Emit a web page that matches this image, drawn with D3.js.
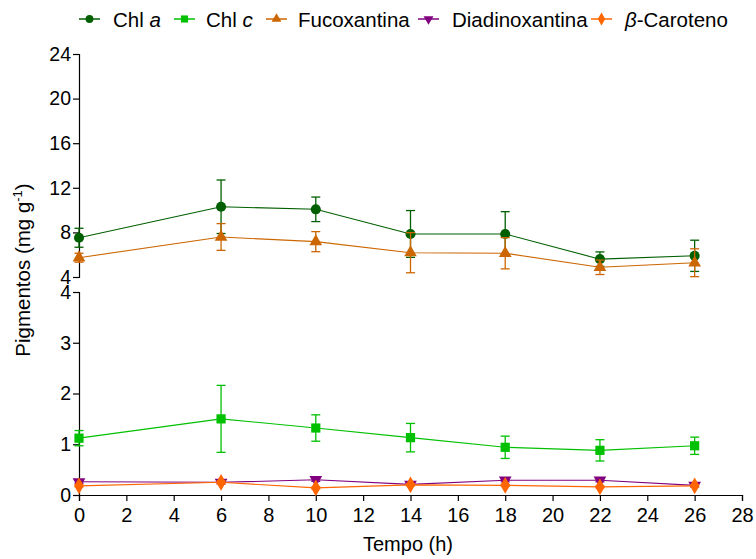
<!DOCTYPE html>
<html>
<head>
<meta charset="utf-8">
<script src="https://cdn.jsdelivr.net/npm/d3@7"></script>
<style>
  body { margin: 0; background: #fff; }
  svg text { font-family: "Liberation Sans", Arial, sans-serif; }
  .axis path, .axis line { stroke: #000; stroke-width: 1.2; }
  .axis text { font-family: "Liberation Sans", Arial, sans-serif; fill: #000; }
</style>
</head>
<body>
<svg id="chart" width="756" height="559"></svg>
<script>
// data
const hours = [0, 6, 10, 14, 18, 22, 26];

const chlA = [7.52, 10.3, 10.07, 7.86, 7.86, 5.6, 5.9];
const chlAErr = [0.85, 2.4, 1.1, 2.1, 2.0, 0.65, 1.4];

const fuco = [5.73, 7.59, 7.17, 6.18, 6.13, 4.87, 5.28];
const fucoErr = [0.4, 1.2, 0.9, 1.8, 1.4, 0.65, 1.25];

const chlC = [1.12, 1.5, 1.32, 1.13, 0.94, 0.88, 0.97];
const chlCErr = [0.15, 0.66, 0.26, 0.28, 0.22, 0.21, 0.17];

const diadino = [0.26, 0.25, 0.3, 0.21, 0.29, 0.29, 0.19];
const diadinoErr = [0.03, 0.03, 0.03, 0.02, 0.03, 0.03, 0.03];

const caroteno = [0.18, 0.25, 0.14, 0.2, 0.19, 0.16, 0.18];
const carotenoErr = [0.02, 0.03, 0.02, 0.02, 0.02, 0.02, 0.02];

const xTicks = d3.range(0, 29, 2);
const upperTicks = [4, 8, 12, 16, 20, 24];
const lowerTicks = [0, 1, 2, 3, 4];

const series = [
  { name: 'Chl a', values: chlA, err: chlAErr, color: '#005f00', symbol: d3.symbolCircle, size: 80, panel: 'upper' },
  { name: 'Chl c', values: chlC, err: chlCErr, color: '#00c000', symbol: d3.symbolSquare, size: 85, panel: 'lower' },
  { name: 'Fucoxantina', values: fuco, err: fucoErr, color: '#cc6600', symbol: d3.symbolTriangle, size: 70, panel: 'upper' },
  { name: 'Diadinoxantina', values: diadino, err: diadinoErr, color: '#800080', symbol: d3.symbolTriangle, size: 70, panel: 'lower', flip: true },
  { name: 'β-Caroteno', values: caroteno, err: carotenoErr, color: '#ff6600', symbol: d3.symbolDiamond, size: 80, panel: 'lower' }
];

let svg = d3.select('#chart');

let xScale = d3.scaleLinear().domain([0, 28]).range([79, 742]);
let yUpper = d3.scaleLinear().domain([4, 24]).range([277, 54]);
let yLower = d3.scaleLinear().domain([0, 4]).range([495, 292]);

// axes
svg.append('g')
  .attr('class', 'axis')
  .attr('transform', 'translate(0,495)')
  .style('font-size', '20px')
  .call(d3.axisBottom(xScale).tickValues(xTicks).tickSizeOuter(0).tickSize(6).tickPadding(7));

svg.append('g')
  .attr('class', 'axis')
  .attr('transform', 'translate(79,0)')
  .style('font-size', '19.5px')
  .call(d3.axisLeft(yUpper).tickValues(upperTicks).tickFormat(d3.format('d')).tickSizeOuter(0).tickSize(6).tickPadding(2));

svg.append('g')
  .attr('class', 'axis')
  .attr('transform', 'translate(79,0)')
  .style('font-size', '19.5px')
  .call(d3.axisLeft(yLower).tickValues(lowerTicks).tickFormat(d3.format('d')).tickSizeOuter(0).tickSize(6).tickPadding(2));

svg.selectAll('.axis .domain').attr('fill', 'none');

// axis titles
svg.append('text')
  .attr('x', 408)
  .attr('y', 551)
  .attr('text-anchor', 'middle')
  .style('font-size', '20px')
  .text('Tempo (h)');

let yTitle = svg.append('text')
  .attr('transform', 'translate(30,270) rotate(-90)')
  .attr('text-anchor', 'middle')
  .style('font-size', '20.5px');
yTitle.append('tspan').text('Pigmentos (mg g');
yTitle.append('tspan').attr('dy', -8).style('font-size', '13px').text('-1');
yTitle.append('tspan').attr('dy', 8).text(')');

// series
series.forEach((s) => {
  let yScale = s.panel === 'upper' ? yUpper : yLower;
  let pts = hours.map((h, i) => ({ x: h, y: s.values[i], e: s.err[i] }));
  let g = svg.append('g');

  let line = d3.line()
    .x((d) => xScale(d.x))
    .y((d) => yScale(d.y));

  g.append('path')
    .datum(pts)
    .attr('d', line)
    .attr('fill', 'none')
    .attr('stroke', s.color)
    .attr('stroke-width', 1.1);

  // error bars
  let eb = g.selectAll('.eb')
    .data(pts)
    .enter()
    .append('g')
    .attr('stroke', s.color)
    .attr('stroke-width', 1.3);

  eb.append('line')
    .attr('x1', (d) => xScale(d.x))
    .attr('x2', (d) => xScale(d.x))
    .attr('y1', (d) => yScale(d.y - d.e))
    .attr('y2', (d) => yScale(d.y + d.e));
  eb.append('line')
    .attr('x1', (d) => xScale(d.x) - 4.5)
    .attr('x2', (d) => xScale(d.x) + 4.5)
    .attr('y1', (d) => yScale(d.y + d.e))
    .attr('y2', (d) => yScale(d.y + d.e));
  eb.append('line')
    .attr('x1', (d) => xScale(d.x) - 4.5)
    .attr('x2', (d) => xScale(d.x) + 4.5)
    .attr('y1', (d) => yScale(d.y - d.e))
    .attr('y2', (d) => yScale(d.y - d.e));

  g.selectAll('.mk')
    .data(pts)
    .enter()
    .append('path')
    .attr('d', d3.symbol().type(s.symbol).size(s.size))
    .attr('transform', (d) => `translate(${xScale(d.x)},${yScale(d.y)})` + (s.flip ? ' rotate(180)' : ''))
    .attr('fill', s.color);
});

// legend
const legendX = [79, 174, 266, 418, 591];
const legendText = [34, 32, 32, 34, 34];
let legend = svg.append('g');
series.forEach((s, i) => {
  let lg = legend.append('g').attr('transform', `translate(${legendX[i]},19)`);
  lg.append('line')
    .attr('x1', 0).attr('x2', 21)
    .attr('stroke', s.color).attr('stroke-width', 1.5);
  lg.append('path')
    .attr('d', d3.symbol().type(s.symbol).size(s.size * 0.6))
    .attr('transform', 'translate(10.5,0)' + (s.flip ? ' rotate(180)' : ''))
    .attr('fill', s.color);
  let t = lg.append('text')
    .attr('x', legendText[i])
    .attr('y', 8)
    .style('font-size', '20.5px');
  if (i === 0) {
    t.append('tspan').text('Chl ');
    t.append('tspan').style('font-style', 'italic').text('a');
  } else if (i === 1) {
    t.append('tspan').text('Chl ');
    t.append('tspan').style('font-style', 'italic').text('c');
  } else if (i === 4) {
    t.append('tspan').style('font-style', 'italic').text('β');
    t.append('tspan').text('-Caroteno');
  } else {
    t.text(s.name);
  }
});
</script>
</body>
</html>
